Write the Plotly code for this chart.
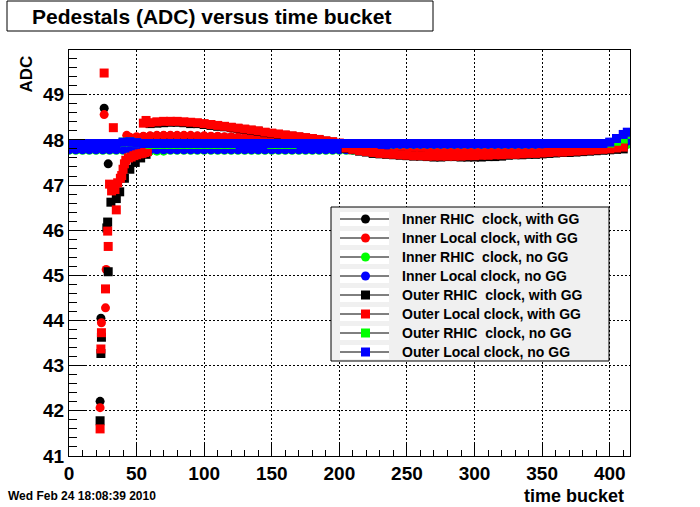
import plotly.graph_objects as go

# ---------------- data ----------------
series_names = [
    "Inner RHIC  clock, with GG",
    "Inner Local clock, with GG",
    "Inner RHIC  clock, no GG",
    "Inner Local clock, no GG",
    "Outer RHIC  clock, with GG",
    "Outer Local clock, with GG",
    "Outer RHIC  clock, no GG",
    "Outer Local clock, no GG",
]
series_colors = ["#000000", "#ff0000", "#00ff00", "#0000ff",
                 "#000000", "#ff0000", "#00ff00", "#0000ff"]
series_symbols = ["circle"] * 4 + ["square"] * 4

# time buckets of the sampled flat parts
tb_nogg = list(range(0, 411, 5)) + [413]
tb_gg_in = list(range(45, 411, 5))
tb_gg_out = list(range(60, 411, 5))

# Inner RHIC clock, with GG (black circles)
in_rhic_gg_x = [23, 23.6, 26, 29] + tb_gg_in
in_rhic_gg_y = [42.21, 44.05, 48.70, 47.47] + [
    48.04, 48.05, 48.07, 48.08, 48.09, 48.09, 48.09, 48.09, 48.09, 48.08,
    48.08, 48.08, 48.07, 48.07, 48.06, 48.06, 48.05, 48.04, 48.03, 48.02,
    48.01, 48.01, 48.00, 47.99, 47.98, 47.97, 47.96, 47.94, 47.93, 47.92,
    47.91, 47.89, 47.87, 47.85, 47.83, 47.82, 47.81, 47.80, 47.79, 47.79,
    47.78, 47.78, 47.77, 47.77, 47.77, 47.76, 47.76, 47.76, 47.76, 47.76,
    47.76, 47.76, 47.77, 47.77, 47.77, 47.77, 47.77, 47.78, 47.78, 47.78,
    47.78, 47.79, 47.79, 47.79, 47.79, 47.80, 47.80, 47.80, 47.81, 47.81,
    47.81, 47.82, 47.82, 47.83]

# Inner Local clock, with GG (red circles)
in_local_gg_x = [23, 24, 26, 27, 27.5, 42.7] + tb_gg_in
in_local_gg_y = [42.07, 43.95, 48.56, 44.28, 45.13, 48.10] + [
    48.06, 48.07, 48.08, 48.09, 48.10, 48.10, 48.10, 48.10, 48.10, 48.10,
    48.09, 48.09, 48.08, 48.08, 48.07, 48.07, 48.06, 48.05, 48.04, 48.03,
    48.02, 48.02, 48.01, 48.00, 47.99, 47.98, 47.97, 47.95, 47.94, 47.93,
    47.92, 47.90, 47.88, 47.86, 47.84, 47.83, 47.82, 47.81, 47.80, 47.80,
    47.79, 47.79, 47.78, 47.78, 47.78, 47.77, 47.77, 47.77, 47.77, 47.77,
    47.77, 47.77, 47.78, 47.78, 47.78, 47.78, 47.78, 47.79, 47.79, 47.79,
    47.79, 47.80, 47.80, 47.80, 47.80, 47.81, 47.81, 47.81, 47.82, 47.82,
    47.82, 47.83, 47.83, 47.84]

# Inner RHIC clock, no GG (green circles)
in_rhic_nogg_x = tb_nogg
in_rhic_nogg_y = [
    47.77, 47.77, 47.77, 47.77, 47.77, 47.77, 47.77, 47.77, 47.77, 47.77,
    47.77, 47.77, 47.75, 47.75, 47.75, 47.77, 47.77, 47.77, 47.77, 47.77,
    47.77, 47.77, 47.77, 47.77, 47.77, 47.77, 47.77, 47.77, 47.77, 47.77,
    47.77, 47.77, 47.77, 47.77, 47.77, 47.77, 47.77, 47.77, 47.77, 47.77,
    47.77, 47.77, 47.77, 47.77, 47.77, 47.77, 47.77, 47.86, 47.90, 47.90,
    47.90, 47.90, 47.90, 47.90, 47.90, 47.90, 47.90, 47.90, 47.90, 47.90,
    47.90, 47.90, 47.90, 47.90, 47.90, 47.90, 47.90, 47.90, 47.90, 47.90,
    47.90, 47.90, 47.90, 47.90, 47.90, 47.90, 47.89, 47.89, 47.89, 47.89,
    47.89, 47.88, 47.86, 47.90]

# Inner Local clock, no GG (blue circles)
in_local_nogg_x = tb_nogg
in_local_nogg_y = [
    47.78, 47.78, 47.78, 47.78, 47.78, 47.78, 47.78, 47.78, 47.78, 47.78,
    47.78, 47.78, 47.78, 47.78, 47.78, 47.78, 47.78, 47.78, 47.78, 47.78,
    47.78, 47.78, 47.78, 47.78, 47.78, 47.78, 47.78, 47.78, 47.78, 47.78,
    47.78, 47.78, 47.78, 47.78, 47.78, 47.78, 47.78, 47.78, 47.78, 47.78,
    47.78, 47.78, 47.78, 47.78, 47.78, 47.78, 47.78, 47.86, 47.90, 47.90,
    47.90, 47.90, 47.90, 47.90, 47.90, 47.90, 47.90, 47.90, 47.90, 47.90,
    47.90, 47.90, 47.90, 47.90, 47.90, 47.90, 47.90, 47.90, 47.90, 47.90,
    47.90, 47.90, 47.90, 47.90, 47.90, 47.90, 47.90, 47.90, 47.90, 47.90,
    47.90, 47.92, 47.95, 47.97]

# Outer RHIC clock, with GG (black squares)
out_rhic_gg_x = [23, 23.6, 24, 28, 28.6, 29, 31, 35, 37.5,
                 41, 45, 49, 53, 57] + tb_gg_out
out_rhic_gg_y = [41.78, 43.27, 43.63, 46.05, 46.18, 45.08, 46.62, 46.70, 46.85,
                 47.15, 47.35, 47.50, 47.60, 47.68] + [
    48.36, 48.37, 48.38, 48.39, 48.39, 48.38, 48.36, 48.36, 48.34, 48.32,
    48.30, 48.29, 48.27, 48.25, 48.23, 48.21, 48.19, 48.16, 48.14, 48.12,
    48.10, 48.08, 48.06, 48.04, 48.02, 48.00, 47.97, 47.95, 47.92, 47.81,
    47.78, 47.75, 47.73, 47.70, 47.69, 47.68, 47.67, 47.66, 47.65, 47.64,
    47.64, 47.63, 47.62, 47.62, 47.63, 47.63, 47.62, 47.62, 47.62, 47.62,
    47.63, 47.63, 47.64, 47.66, 47.67, 47.67, 47.68, 47.68, 47.69, 47.70,
    47.71, 47.72, 47.72, 47.73, 47.74, 47.75, 47.76, 47.77, 47.78, 47.79,
    47.80]

# Outer Local clock, with GG (red squares)
out_local_gg_x = [23, 23.6, 24, 26, 27, 28.6, 29, 30, 31.5, 32.8, 35,
                  34, 36, 38, 39, 40, 41, 42, 44, 46, 48, 50, 52, 54, 56, 58,
                  55, 57] + tb_gg_out
out_local_gg_y = [41.60, 43.37, 43.73, 49.48, 44.70, 45.98, 45.64, 47.02, 46.87, 48.27, 46.45,
                  46.90, 47.05, 47.15, 47.21, 47.35, 47.47, 47.55, 47.60, 47.62, 47.65,
                  47.67, 47.69, 47.70, 47.72, 47.74,
                  48.37, 48.43] + [
    48.38, 48.40, 48.41, 48.41, 48.41, 48.40, 48.39, 48.38, 48.36, 48.34,
    48.32, 48.30, 48.28, 48.26, 48.24, 48.22, 48.20, 48.17, 48.15, 48.13,
    48.11, 48.09, 48.07, 48.05, 48.03, 48.01, 47.98, 47.96, 47.93, 47.82,
    47.79, 47.76, 47.74, 47.72, 47.70, 47.69, 47.68, 47.67, 47.66, 47.65,
    47.65, 47.64, 47.64, 47.64, 47.64, 47.64, 47.64, 47.65, 47.65, 47.66,
    47.66, 47.67, 47.67, 47.68, 47.68, 47.69, 47.70, 47.70, 47.71, 47.72,
    47.73, 47.73, 47.74, 47.75, 47.76, 47.77, 47.78, 47.79, 47.80, 47.82,
    47.84]

# Outer RHIC clock, no GG (green squares)
out_rhic_nogg_x = tb_nogg
out_rhic_nogg_y = [
    47.92, 47.92, 47.92, 47.92, 47.92, 47.92, 47.92, 47.92, 47.95, 47.96,
    47.94, 47.92, 47.90, 47.90, 47.90, 47.90, 47.90, 47.90, 47.90, 47.90,
    47.90, 47.90, 47.90, 47.90, 47.90, 47.92, 47.92, 47.92, 47.92, 47.92,
    47.90, 47.90, 47.90, 47.90, 47.92, 47.92, 47.92, 47.92, 47.92, 47.92,
    47.92, 47.92, 47.92, 47.92, 47.92, 47.92, 47.92, 47.92, 47.92, 47.92,
    47.92, 47.92, 47.92, 47.92, 47.92, 47.92, 47.92, 47.92, 47.92, 47.92,
    47.92, 47.92, 47.92, 47.92, 47.92, 47.92, 47.92, 47.92, 47.92, 47.92,
    47.92, 47.92, 47.92, 47.92, 47.92, 47.92, 47.92, 47.92, 47.92, 47.92,
    47.93, 47.97, 48.02, 48.12]

# Outer Local clock, no GG (blue squares)
out_local_nogg_x = tb_nogg
out_local_nogg_y = [
    47.92, 47.92, 47.92, 47.92, 47.92, 47.92, 47.92, 47.92, 47.95, 47.96,
    47.94, 47.92, 47.92, 47.92, 47.92, 47.92, 47.92, 47.92, 47.92, 47.92,
    47.92, 47.92, 47.92, 47.92, 47.92, 47.92, 47.92, 47.92, 47.92, 47.92,
    47.92, 47.92, 47.92, 47.92, 47.92, 47.92, 47.92, 47.92, 47.92, 47.92,
    47.92, 47.92, 47.92, 47.92, 47.92, 47.92, 47.92, 47.92, 47.92, 47.92,
    47.92, 47.92, 47.92, 47.92, 47.92, 47.92, 47.92, 47.92, 47.92, 47.92,
    47.92, 47.92, 47.92, 47.92, 47.92, 47.92, 47.92, 47.92, 47.92, 47.92,
    47.92, 47.92, 47.92, 47.92, 47.92, 47.92, 47.92, 47.92, 47.92, 47.92,
    47.95, 48.03, 48.12, 48.17]

series_x = [in_rhic_gg_x, in_local_gg_x, in_rhic_nogg_x, in_local_nogg_x,
            out_rhic_gg_x, out_local_gg_x, out_rhic_nogg_x, out_local_nogg_x]
series_y = [in_rhic_gg_y, in_local_gg_y, in_rhic_nogg_y, in_local_nogg_y,
            out_rhic_gg_y, out_local_gg_y, out_rhic_nogg_y, out_local_nogg_y]

x_ticks = [0, 50, 100, 150, 200, 250, 300, 350, 400]
y_ticks = [41, 42, 43, 44, 45, 46, 47, 48, 49]

# ---------------- figure ----------------
W, H = 700, 507
ML, MR, MT, MB = 69, 70, 50, 51
PW, PH = W - ML - MR, H - MT - MB


def px_x(p):
    return (p - ML) / PW


def px_y(p):
    return (H - MB - p) / PH


SANS = "Liberation Sans, Arial, Helvetica, sans-serif"

fig = go.Figure()

for name, col, sym, xs, ys in zip(series_names, series_colors, series_symbols, series_x, series_y):
    fig.add_trace(go.Scatter(
        x=xs, y=ys, mode="markers", name=name, showlegend=False,
        marker=dict(symbol=sym, size=9, color=col, line=dict(width=0)),
        hoverinfo="skip",
    ))

axis_common = dict(
    ticks="inside", tickcolor="black", tickwidth=1,
    showline=True, linecolor="black", linewidth=1, mirror=True,
    showgrid=True, gridcolor="black", gridwidth=1, griddash="2px,2px",
    zeroline=False,
    tickfont=dict(family=SANS, size=19, color="black", weight="bold"),
)

fig.update_xaxes(range=[0, 415], tickvals=x_ticks, ticklen=12,
                 minor=dict(ticks="inside", ticklen=6, dtick=10, tick0=0,
                            tickcolor="black", showgrid=False),
                 **axis_common)
fig.update_yaxes(range=[41, 49.99], tickvals=y_ticks, ticklen=16,
                 minor=dict(ticks="inside", ticklen=8, dtick=0.2, tick0=41,
                            tickcolor="black", showgrid=False),
                 **axis_common)

shapes = []
# title box
shapes.append(dict(type="rect", xref="paper", yref="paper",
                   x0=px_x(7), x1=px_x(433), y0=px_y(31), y1=px_y(1),
                   line=dict(color="black", width=1), fillcolor="white", layer="above"))

# legend box (drawn by hand to match the original's layout)
LEG_X0, LEG_X1, LEG_Y0, LEG_Y1 = 331, 609, 207, 361
ENTRY_Y0, ENTRY_DY = 219, 19
SYM_X0, SYM_X1, SYM_XC, MR_HALF = 340, 389, 365.5, 4.5
TEXT_X = 400
shapes.append(dict(type="rect", xref="paper", yref="paper",
                   x0=px_x(LEG_X0), x1=px_x(LEG_X1), y0=px_y(LEG_Y1), y1=px_y(LEG_Y0),
                   line=dict(color="black", width=1), fillcolor="#f0f0f0", layer="above"))
annotations = []
for i, (name, col, sym) in enumerate(zip(series_names, series_colors, series_symbols)):
    yc = ENTRY_Y0 + ENTRY_DY * i
    shapes.append(dict(type="rect", xref="paper", yref="paper",
                       x0=px_x(SYM_X0), x1=px_x(SYM_X1), y0=px_y(yc + 7), y1=px_y(yc - 7),
                       line=dict(width=0), fillcolor="white", layer="above"))
    shapes.append(dict(type="line", xref="paper", yref="paper",
                       x0=px_x(SYM_X0), x1=px_x(SYM_X1), y0=px_y(yc), y1=px_y(yc),
                       line=dict(color="black", width=1), layer="above"))
    shapes.append(dict(type="circle" if sym == "circle" else "rect", xref="paper", yref="paper",
                       x0=px_x(SYM_XC - MR_HALF), x1=px_x(SYM_XC + MR_HALF),
                       y0=px_y(yc + MR_HALF), y1=px_y(yc - MR_HALF),
                       line=dict(width=0), fillcolor=col, layer="above"))
    annotations.append(dict(text=name, xref="paper", yref="paper",
                            x=px_x(TEXT_X), y=px_y(yc), xanchor="left", yanchor="middle",
                            showarrow=False,
                            font=dict(family=SANS, size=14, color="black", weight="bold")))

annotations += [
    dict(text="Pedestals (ADC) versus time bucket", xref="paper", yref="paper",
         x=px_x(211.5), y=px_y(16), xanchor="center", yanchor="middle",
         showarrow=False, font=dict(family=SANS, size=21, color="black", weight="bold")),
    dict(text="ADC", xref="paper", yref="paper", textangle=-90,
         x=px_x(26), y=px_y(54), xanchor="center", yanchor="top",
         showarrow=False, font=dict(family=SANS, size=17, color="black", weight="bold")),
    dict(text="time bucket", xref="paper", yref="paper",
         x=px_x(626), y=px_y(496), xanchor="right", yanchor="middle",
         showarrow=False, font=dict(family=SANS, size=18, color="black", weight="bold")),
    dict(text="Wed Feb 24 18:08:39 2010", xref="paper", yref="paper",
         x=px_x(6), y=px_y(496), xanchor="left", yanchor="middle",
         showarrow=False, font=dict(family=SANS, size=12, color="black", weight="bold")),
]

fig.update_layout(
    width=W, height=H,
    margin=dict(l=ML, r=MR, t=MT, b=MB, autoexpand=False),
    paper_bgcolor="white", plot_bgcolor="white",
    showlegend=False,
    shapes=shapes,
    annotations=annotations,
)

fig.write_html("out.html",
               config={"displayModeBar": False, "staticPlot": True},
               post_script="document.body.style.margin='0px';document.body.style.padding='0px';")
